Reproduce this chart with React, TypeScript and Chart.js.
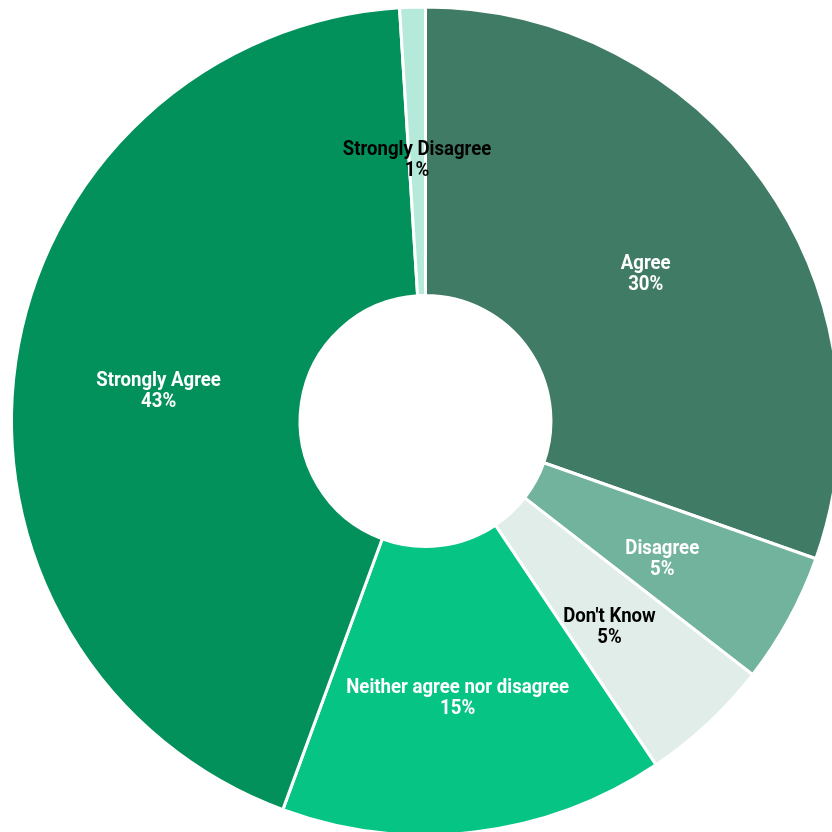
import React, { useEffect, useRef } from "react";
import { Chart, registerables } from "chart.js";

Chart.register(...registerables);

const categories = [
  "Agree",
  "Disagree",
  "Don't Know",
  "Neither agree nor disagree",
  "Strongly Agree",
  "Strongly Disagree",
];
const values = [30.4, 5.1, 5.1, 15.0, 43.4, 1.0];
const sliceColors = ["#3f7b65", "#72b39d", "#e0ede8", "#06c483", "#02905b", "#b5eada"];
const labelColors = ["#ffffff", "#ffffff", "#000000", "#ffffff", "#ffffff", "#000000"];

const labelPlugin = {
  id: "sliceLabels",
  afterDatasetsDraw(chart: any) {
    const ctx = chart.ctx;
    const meta = chart.getDatasetMeta(0);
    const total = values.reduce((a, b) => a + b, 0);
    ctx.save();
    ctx.font = "bold 20px Roboto";
    ctx.textAlign = "center";
    ctx.textBaseline = "middle";
    meta.data.forEach((arc: any, i: number) => {
      const p = arc.getProps(["x", "y", "startAngle", "endAngle", "innerRadius", "outerRadius"], true);
      const a = (p.startAngle + p.endAngle) / 2;
      const r = (p.innerRadius + p.outerRadius) / 2;
      const x = p.x + Math.cos(a) * r;
      const y = p.y + Math.sin(a) * r;
      const pct = Math.round((values[i] / total) * 100) + "%";
      ctx.fillStyle = labelColors[i];
      ctx.save();
      ctx.translate(x, y);
      ctx.scale(0.93, 1);
      ctx.fillText(categories[i], 0, -1);
      ctx.fillText(pct, 0, 20);
      ctx.restore();
    });
    ctx.restore();
  },
};

export default function App() {
  const ref = useRef<HTMLCanvasElement | null>(null);
  useEffect(() => {
    if (!ref.current) return;
    const chart = new Chart(ref.current, {
      type: "doughnut",
      data: {
        labels: categories,
        datasets: [
          {
            data: values,
            backgroundColor: sliceColors,
            borderColor: "#ffffff",
            borderWidth: 3,
          },
        ],
      },
      options: {
        responsive: false,
        animation: false,
        radius: 414,
        cutout: "30.3%",
        layout: { padding: { left: 19, right: 0, top: 10, bottom: 0 } },
        plugins: {
          legend: { display: false },
          tooltip: { enabled: false },
        },
      },
      plugins: [labelPlugin],
    });
    return () => chart.destroy();
  }, []);
  return (
    <div style={{ position: "absolute", left: 0, top: 0, width: 832, height: 832, overflow: "hidden", background: "#ffffff" }}>
      <canvas ref={ref} width={832} height={832} />
    </div>
  );
}
